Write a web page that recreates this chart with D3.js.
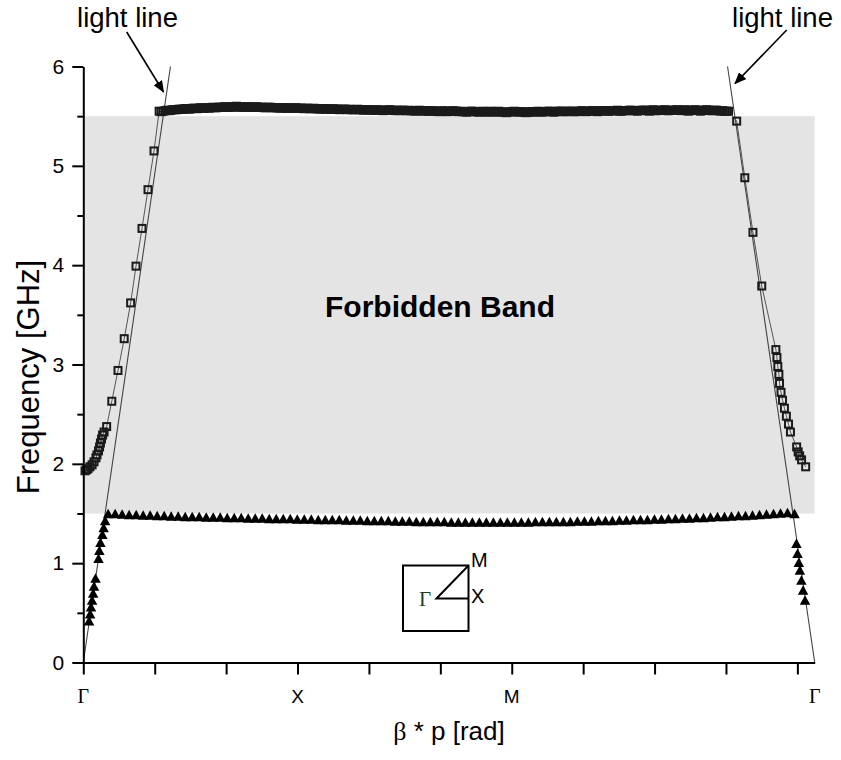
<!DOCTYPE html>
<html>
<head>
<meta charset="utf-8">
<script src="https://cdn.jsdelivr.net/npm/d3@7"></script>
<style>
  body { margin: 0; background: #fff; }
  svg { display: block; }
</style>
</head>
<body>
<svg id="chart" width="841" height="760"></svg>
<script>
// Wave-vector path length in units of pi/p: Γ–X = 1, X–M = 1, M–Γ = √2
const pathEnd = 2 + Math.SQRT2;

// Symmetry-point labels along the path
const symPoints = [
  { beta: 0, label: "Γ", serif: true },
  { beta: 1, label: "X", serif: false },
  { beta: 2, label: "M", serif: false },
  { beta: pathEnd, label: "Γ", serif: true }
];

// Axis ticks
const xTickValues = [0, 1/3, 2/3, 1, 4/3, 5/3, 2, 7/3, 8/3, 3, 10/3];
const yTickValues = [0, 1, 2, 3, 4, 5, 6];
const yMinorTicks = [0.5, 1.5, 2.5, 3.5, 4.5, 5.5];

// Forbidden band limits [GHz]
const bandLow = 1.5;
const bandHigh = 5.5;

// Light lines (f = c·β / 2πp) from both Γ points
const lightLineLeft = [[0, 0], [0.4068, 6]];
const lightLineRight = [[pathEnd, 0], [pathEnd - 0.4068, 6]];

// Upper mode (open squares): Γ–X rise near the light line
const upperRise = [
  [0.008, 1.93], [0.015, 1.94], [0.022, 1.95], [0.031, 1.97], [0.041, 1.99],
  [0.050, 2.02], [0.059, 2.06], [0.064, 2.09], [0.071, 2.13], [0.076, 2.17],
  [0.080, 2.21], [0.085, 2.25], [0.090, 2.29], [0.097, 2.32], [0.109, 2.375],
  [0.133, 2.63], [0.162, 2.94], [0.191, 3.26], [0.221, 3.62], [0.246, 3.99],
  [0.274, 4.37], [0.302, 4.76], [0.330, 5.15]
];

// Upper mode: flat part above the band, sampled uniformly in β
const upperFlatStart = 0.354;
const upperFlatEnd = 3.012;
const upperFlatFreq = [
  5.55, 5.545, 5.55, 5.555, 5.56, 5.555, 5.56, 5.565, 5.565, 5.565, 5.57, 5.57,
  5.57, 5.575, 5.575, 5.57, 5.575, 5.58, 5.58, 5.575, 5.58, 5.585, 5.58, 5.58,
  5.585, 5.58, 5.585, 5.59, 5.585, 5.585, 5.59, 5.59, 5.59, 5.595, 5.59, 5.59,
  5.59, 5.595, 5.595, 5.6, 5.59, 5.595, 5.59, 5.59, 5.595, 5.595, 5.59, 5.59,
  5.59, 5.595, 5.59, 5.59, 5.59, 5.585, 5.585, 5.59, 5.59, 5.585, 5.585, 5.585,
  5.585, 5.58, 5.585, 5.585, 5.58, 5.58, 5.585, 5.58, 5.58, 5.585, 5.58, 5.58,
  5.58, 5.575, 5.58, 5.58, 5.575, 5.575, 5.58, 5.575, 5.575, 5.57, 5.575, 5.575,
  5.57, 5.575, 5.57, 5.57, 5.575, 5.57, 5.57, 5.565, 5.57, 5.57, 5.57, 5.565,
  5.57, 5.565, 5.565, 5.565, 5.57, 5.565, 5.565, 5.56, 5.565, 5.565, 5.565, 5.56,
  5.56, 5.56, 5.565, 5.56, 5.56, 5.555, 5.56, 5.56, 5.565, 5.56, 5.56, 5.555,
  5.56, 5.555, 5.56, 5.56, 5.555, 5.555, 5.56, 5.555, 5.555, 5.55, 5.555, 5.56,
  5.555, 5.55, 5.555, 5.555, 5.55, 5.55, 5.555, 5.55, 5.55, 5.545, 5.55, 5.555,
  5.55, 5.545, 5.55, 5.55, 5.555, 5.55, 5.55, 5.545, 5.55, 5.545, 5.545, 5.54,
  5.545, 5.55, 5.55, 5.545, 5.545, 5.54, 5.545, 5.55, 5.545, 5.54, 5.545, 5.55,
  5.545, 5.54, 5.545, 5.55, 5.545, 5.54, 5.54, 5.535, 5.54, 5.545, 5.545, 5.55,
  5.545, 5.54, 5.545, 5.545, 5.54, 5.535, 5.54, 5.545, 5.545, 5.54, 5.545, 5.55,
  5.545, 5.54, 5.545, 5.545, 5.55, 5.55, 5.545, 5.54, 5.545, 5.55, 5.55, 5.55,
  5.545, 5.545, 5.55, 5.55, 5.55, 5.545, 5.545, 5.55, 5.55, 5.555, 5.55, 5.545,
  5.55, 5.55, 5.555, 5.555, 5.55, 5.545, 5.55, 5.555, 5.555, 5.555, 5.55, 5.55,
  5.555, 5.555, 5.555, 5.56, 5.55, 5.55, 5.555, 5.555, 5.555, 5.56, 5.56, 5.555,
  5.555, 5.55, 5.555, 5.56, 5.56, 5.56, 5.555, 5.55, 5.56, 5.565, 5.555, 5.555,
  5.56, 5.56, 5.56, 5.565, 5.555, 5.555, 5.56, 5.56, 5.56, 5.565, 5.56, 5.555,
  5.56, 5.565, 5.555, 5.55, 5.56, 5.56, 5.565, 5.56, 5.555, 5.55, 5.56, 5.56,
  5.565, 5.56, 5.555, 5.555, 5.56, 5.56, 5.555, 5.55, 5.555, 5.55, 5.55, 5.55
];

// Upper mode: M–Γ fall back toward the light line
const upperFall = [
  [3.050, 5.45], [3.088, 4.88], [3.126, 4.33], [3.167, 3.79], [3.233, 3.15],
  [3.238, 3.07], [3.242, 2.98], [3.247, 2.90], [3.250, 2.81], [3.257, 2.72],
  [3.264, 2.64], [3.273, 2.56], [3.282, 2.48], [3.292, 2.40], [3.301, 2.32],
  [3.330, 2.17], [3.337, 2.12], [3.344, 2.08], [3.353, 2.04], [3.372, 1.97]
];

// Lower mode (filled triangles): rise from Γ
const lowerRise = [
  [0.027, 0.42], [0.032, 0.49], [0.036, 0.56], [0.041, 0.63], [0.046, 0.70],
  [0.050, 0.77], [0.057, 0.85], [0.071, 1.05], [0.075, 1.13], [0.080, 1.21],
  [0.089, 1.29], [0.095, 1.36], [0.102, 1.43]
];

// Lower mode: flat part below the band, sampled uniformly in β
const lowerFlatStart = 0.116;
const lowerFlatEnd = 3.320;
const lowerFlatFreq = [
  1.50, 1.50, 1.495, 1.49, 1.49, 1.485, 1.485, 1.48, 1.48, 1.475, 1.475,
  1.47, 1.47, 1.47, 1.465, 1.465, 1.465, 1.46, 1.46, 1.46, 1.455, 1.455,
  1.455, 1.45, 1.45, 1.45, 1.45, 1.445, 1.445, 1.445, 1.44, 1.44, 1.44,
  1.44, 1.435, 1.435, 1.435, 1.43, 1.43, 1.43, 1.43, 1.425, 1.425, 1.425,
  1.42, 1.42, 1.42, 1.42, 1.42, 1.415, 1.415, 1.415, 1.415, 1.415, 1.415,
  1.415, 1.415, 1.415, 1.415, 1.415, 1.415, 1.42, 1.42, 1.42, 1.42, 1.42,
  1.42, 1.425, 1.425, 1.425, 1.43, 1.43, 1.43, 1.435, 1.435, 1.44, 1.44,
  1.44, 1.445, 1.445, 1.45, 1.45, 1.455, 1.455, 1.46, 1.46, 1.465, 1.47,
  1.47, 1.475, 1.48, 1.48, 1.485, 1.49, 1.495, 1.50, 1.505, 1.51, 1.50
];

// Lower mode: fall toward Γ at the end of the path
const lowerFall = [
  [3.329, 1.20], [3.334, 1.10], [3.340, 1.01], [3.345, 0.93],
  [3.352, 0.83], [3.360, 0.73], [3.369, 0.63]
];

// ---------------------------------------------------------------
const sampleFlat = (start, end, freqs) => {
  const n = freqs.length;
  return freqs.map((f, i) => [start + (end - start) * i / (n - 1), f]);
};

const upperMode = upperRise
  .concat(sampleFlat(upperFlatStart, upperFlatEnd, upperFlatFreq))
  .concat(upperFall);
const lowerMode = lowerRise
  .concat(sampleFlat(lowerFlatStart, lowerFlatEnd, lowerFlatFreq))
  .concat(lowerFall);

const svg = d3.select("#chart");
const sans = "'Liberation Sans', Arial, sans-serif";
const serif = "'Liberation Serif', 'Times New Roman', serif";

const x = d3.scaleLinear().domain([0, pathEnd]).range([83.3, 814.7]);
const y = d3.scaleLinear().domain([0, 6]).range([662.5, 66.5]);

// Forbidden band
svg.append("rect")
  .attr("x", x(0)).attr("y", y(bandHigh))
  .attr("width", x(pathEnd) - x(0))
  .attr("height", y(bandLow) - y(bandHigh))
  .attr("fill", "#e4e4e4");

svg.append("text")
  .attr("x", 440).attr("y", 317)
  .attr("text-anchor", "middle")
  .attr("font-family", sans).attr("font-weight", "bold")
  .attr("font-size", 30)
  .text("Forbidden Band");

const line = d3.line().x(d => x(d[0])).y(d => y(d[1]));

// Light lines
[lightLineLeft, lightLineRight].forEach(pts => {
  svg.append("path").attr("d", line(pts))
    .attr("fill", "none").attr("stroke", "#444").attr("stroke-width", 1.1);
});

// Upper mode connecting line and open squares
svg.append("path").attr("d", line(upperMode))
  .attr("fill", "none").attr("stroke", "#555").attr("stroke-width", 1);

const sq = 7;
svg.append("g").selectAll("rect").data(upperMode).join("rect")
  .attr("x", d => x(d[0]) - sq / 2)
  .attr("y", d => y(d[1]) - sq / 2)
  .attr("width", sq).attr("height", sq)
  .attr("fill", "none").attr("stroke", "#1a1a1a").attr("stroke-width", 2);

// Lower mode filled triangles
const triW = 10.5, triH = 9.5;
const triPath = `M0,${-triH / 2}L${triW / 2},${triH / 2}L${-triW / 2},${triH / 2}Z`;
svg.append("g").selectAll("path").data(lowerMode).join("path")
  .attr("d", triPath)
  .attr("transform", d => `translate(${x(d[0])},${y(d[1])})`)
  .attr("fill", "#000");

// Axes
const yAxis = svg.append("g").attr("transform", `translate(${x(0)},0)`)
  .call(d3.axisLeft(y).tickValues(yTickValues).tickSize(11).tickSizeOuter(0)
    .tickPadding(8).tickFormat(d3.format("d")));
svg.append("g").attr("transform", `translate(${x(0)},0)`)
  .call(d3.axisLeft(y).tickValues(yMinorTicks).tickSize(6).tickSizeOuter(0).tickFormat(""))
  .call(g => g.select(".domain").remove());
svg.append("g").attr("transform", `translate(0,${y(0)})`)
  .call(d3.axisBottom(x).tickValues(xTickValues).tickSize(12).tickSizeOuter(0).tickFormat(""));

svg.selectAll(".domain, .tick line").attr("stroke", "#000").attr("stroke-width", 2);
yAxis.selectAll(".tick text").attr("font-family", sans).attr("font-size", 21).attr("fill", "#000");

// Symmetry-point labels
svg.append("g").selectAll("text").data(symPoints).join("text")
  .attr("x", d => x(d.beta))
  .attr("y", 703)
  .attr("text-anchor", "middle")
  .attr("font-family", d => d.serif ? serif : sans)
  .attr("font-size", d => d.serif ? 20 : 19)
  .text(d => d.label);

// Axis titles
svg.append("text")
  .attr("transform", "translate(39,377) rotate(-90)")
  .attr("text-anchor", "middle")
  .attr("font-family", sans).attr("font-size", 31)
  .text("Frequency [GHz]");

const xt = svg.append("text")
  .attr("x", 449).attr("y", 740)
  .attr("text-anchor", "middle")
  .attr("font-family", sans).attr("font-size", 26);
xt.append("tspan").attr("font-family", serif).text("β");
xt.append("tspan").text(" * p [rad]");

// Light line annotations
const defs = svg.append("defs");
defs.append("marker").attr("id", "arrowHead")
  .attr("viewBox", "0 0 12 10").attr("refX", 11).attr("refY", 5)
  .attr("markerWidth", 12).attr("markerHeight", 10)
  .attr("markerUnits", "userSpaceOnUse").attr("orient", "auto")
  .append("path").attr("d", "M0,0L12,5L0,10Z").attr("fill", "#000");

const notes = [
  { tx: 127.5, ty: 27, x1: 126.7, y1: 32, x2: 163.5, y2: 92 },
  { tx: 782.5, ty: 27, x1: 786.7, y1: 30, x2: 735, y2: 83.5 }
];
notes.forEach(n => {
  svg.append("text").attr("x", n.tx).attr("y", n.ty)
    .attr("text-anchor", "middle").attr("font-family", sans).attr("font-size", 27.5)
    .text("light line");
  svg.append("line").attr("x1", n.x1).attr("y1", n.y1).attr("x2", n.x2).attr("y2", n.y2)
    .attr("stroke", "#000").attr("stroke-width", 1.6).attr("marker-end", "url(#arrowHead)");
});

// Brillouin-zone sketch
const bz = svg.append("g").attr("fill", "none").attr("stroke", "#000").attr("stroke-width", 2);
bz.append("rect").attr("x", 403).attr("y", 565.5).attr("width", 65.5).attr("height", 65.5);
bz.append("path").attr("d", "M468.5,565.5L436.5,598.5L468.5,598.5");
svg.append("text").attr("x", 425).attr("y", 606).attr("text-anchor", "middle")
  .attr("font-family", serif).attr("font-size", 21).attr("fill", "#1f3d1f").text("Γ");
svg.append("text").attr("x", 471).attr("y", 567).attr("font-family", sans).attr("font-size", 20).text("M");
svg.append("text").attr("x", 471).attr("y", 603).attr("font-family", sans).attr("font-size", 20).text("X");
</script>
</body>
</html>
